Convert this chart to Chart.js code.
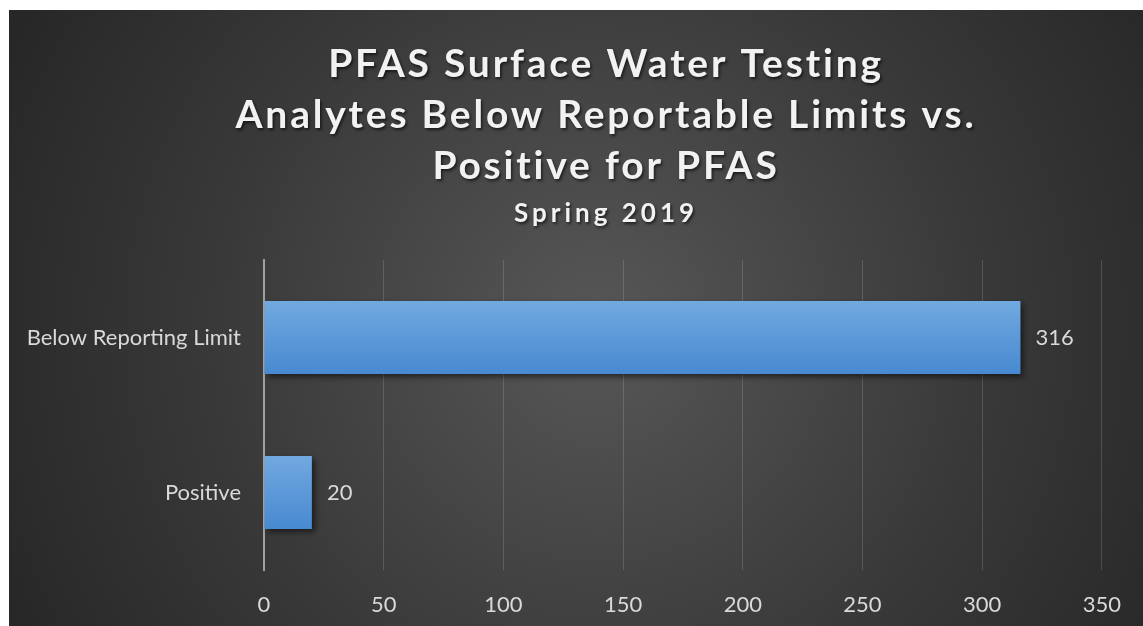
<!DOCTYPE html>
<html>
<head>
<meta charset="utf-8">
<script src="https://cdn.jsdelivr.net/npm/chart.js@4"></script>
<style>
  html, body { margin: 0; padding: 0; background: #ffffff; overflow: hidden; }
  #wrap { position: absolute; left: 9px; top: 10px; width: 1134px; height: 616px; }
</style>
</head>
<body>
<div id="wrap"><canvas id="pfasChart"></canvas></div>
<script>
// chart data
const categories = ['Below Reporting Limit', 'Positive'];
const counts = [316, 20];
const xMin = 0;
const xMax = 350;
const xStep = 50;
const titleLines = ['PFAS Surface Water Testing', 'Analytes Below Reportable Limits vs.', 'Positive for PFAS'];
const subtitleText = 'Spring 2019';

const FONT = "Lato, 'Open Sans', sans-serif";

// dark radial background like the office chart style
const backgroundPlugin = {
    id: 'bgFill',
    beforeDraw(chart) {
        const ctx = chart.ctx;
        const w = chart.width, h = chart.height;
        const g = ctx.createRadialGradient(590, 320, 0, 590, 320, 720);
        g.addColorStop(0, '#575757');
        g.addColorStop(0.55, '#383838');
        g.addColorStop(1, '#232323');
        ctx.save();
        ctx.fillStyle = g;
        ctx.fillRect(0, 0, w, h);
        ctx.restore();
    }
};

// title block with letter spacing and soft shadow
const titlePlugin = {
    id: 'titleBlock',
    afterDraw(chart) {
        const ctx = chart.ctx;
        const cx = 597;
        ctx.save();
        ctx.textAlign = 'center';
        ctx.textBaseline = 'alphabetic';
        ctx.fillStyle = '#f2f2f2';
        ctx.shadowColor = 'rgba(0,0,0,0.6)';
        ctx.shadowBlur = 3;
        ctx.shadowOffsetX = 1.5;
        ctx.shadowOffsetY = 1.5;
        ctx.letterSpacing = '2.8px';
        ctx.font = 'bold 39px ' + FONT;
        const baselines = [67, 118, 169];
        titleLines.forEach((line, i) => ctx.fillText(line, cx, baselines[i]));
        ctx.letterSpacing = '4px';
        ctx.font = 'bold 26px ' + FONT;
        ctx.fillText(subtitleText, cx, 212);
        ctx.restore();
    }
};

// drop shadow under the bars + value labels
const barExtras = {
    id: 'barExtras',
    beforeDatasetsDraw(chart) {
        const ctx = chart.ctx;
        ctx.save();
        ctx.shadowColor = 'rgba(0,0,0,0.55)';
        ctx.shadowBlur = 6;
        ctx.shadowOffsetX = 3;
        ctx.shadowOffsetY = 3;
    },
    afterDatasetsDraw(chart) {
        const ctx = chart.ctx;
        ctx.restore();
        ctx.save();
        ctx.font = '22px ' + FONT;
        ctx.fillStyle = '#d9d9d9';
        ctx.textAlign = 'left';
        ctx.textBaseline = 'middle';
        const meta = chart.getDatasetMeta(0);
        meta.data.forEach((bar, i) => {
            ctx.fillText(String(counts[i]), bar.x + 15, bar.y);
        });
        ctx.restore();
    }
};

function barGradient(context) {
    const chart = context.chart;
    const yScale = chart.scales.y;
    if (!yScale || context.dataIndex === undefined) return '#5b9bd5';
    const center = yScale.getPixelForValue(context.dataIndex);
    if (!Number.isFinite(center)) return '#5b9bd5';
    const half = 37;
    const g = chart.ctx.createLinearGradient(0, center - half, 0, center + half);
    g.addColorStop(0, '#72a9e0');
    g.addColorStop(1, '#4789d0');
    return g;
}

const ctx = document.getElementById('pfasChart').getContext('2d');
new Chart(ctx, {
    type: 'bar',
    data: {
        labels: categories,
        datasets: [{
            data: counts,
            backgroundColor: barGradient,
            borderWidth: 0,
            barPercentage: 0.47,
            categoryPercentage: 1.0
        }]
    },
    options: {
        indexAxis: 'y',
        responsive: true,
        maintainAspectRatio: false,
        animation: false,
        layout: { padding: { top: 250, right: 40, left: 0, bottom: 0 } },
        plugins: {
            legend: { display: false },
            tooltip: { enabled: false }
        },
        scales: {
            x: {
                min: xMin,
                max: xMax,
                ticks: { stepSize: xStep, color: '#d9d9d9', font: { family: FONT, size: 22 }, padding: 22 },
                grid: {
                    color: ctx => ctx.index === 0 ? 'rgba(0,0,0,0)' : 'rgba(255,255,255,0.15)',
                    lineWidth: 1,
                    drawTicks: false
                },
                border: { display: false },
                afterFit(scale) { scale.height = 56; }
            },
            y: {
                ticks: { color: '#d9d9d9', font: { family: FONT, size: 22 }, padding: 23 },
                grid: { display: false, drawTicks: false },
                border: { color: '#a0a0a0', width: 2 },
                afterFit(scale) { scale.width = 255; }
            }
        }
    },
    plugins: [backgroundPlugin, barExtras, titlePlugin]
});
</script>
</body>
</html>
